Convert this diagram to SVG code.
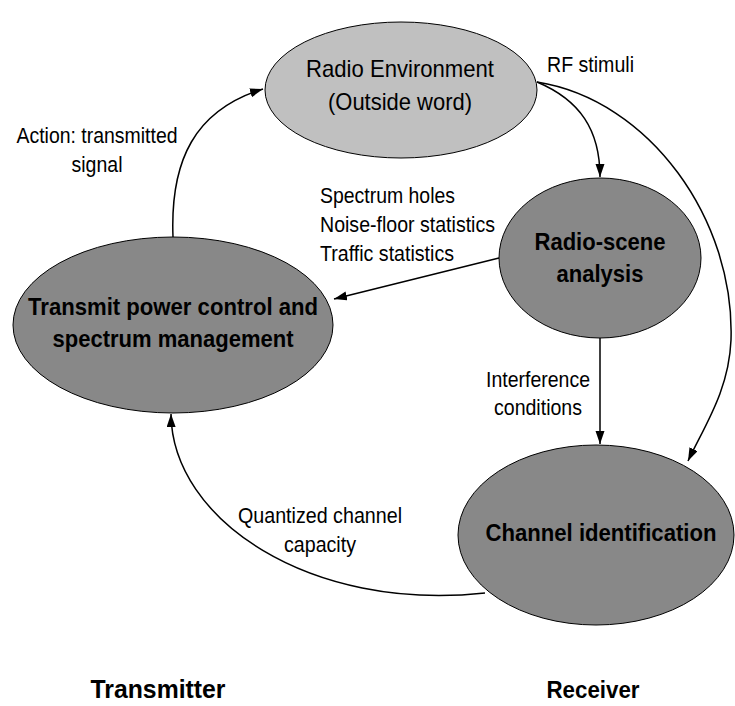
<svg xmlns="http://www.w3.org/2000/svg" width="735" height="706" viewBox="0 0 735 706">
<style>
.node{stroke:#000;stroke-width:1}
.env{fill:#c0c0c0}
.dark{fill:#888888}
.nt{font-family:"Liberation Sans",Arial,sans-serif;font-size:24px;fill:#000;text-anchor:middle}
.b{font-weight:bold}
.lbl{font-family:"Liberation Sans",Arial,sans-serif;font-size:21.5px;fill:#000}
.c{fill:none;stroke:#000;stroke-width:1.5}
</style>
<defs>
<marker id="ah" markerUnits="userSpaceOnUse" markerWidth="14" markerHeight="10" refX="13" refY="4.5" orient="auto">
<path d="M0,0 L13,4.5 L0,9 z" fill="#000"/>
</marker>
</defs>
<rect width="735" height="706" fill="#fff"/>
<g id="connectors">
<path class="c" d="M173,237 C170,160 195,110 263,89" marker-end="url(#ah)"/>
<path class="c" d="M537,82 C580,100 600,130 600,177" marker-end="url(#ah)"/>
<path class="c" d="M537,82 C650,100 735,220 731,340 C729,390 705,425 688,461" marker-end="url(#ah)"/>
<path class="c" d="M499,258 L334,299" marker-end="url(#ah)"/>
<path class="c" d="M600,337 L600,444" marker-end="url(#ah)"/>
<path class="c" d="M485,593 C310,612 172,520 171,414" marker-end="url(#ah)"/>
</g>
<g id="radio-environment">
<ellipse class="node env" cx="401" cy="90" rx="136" ry="68"/>
<text class="nt" x="400" y="77" textLength="188" lengthAdjust="spacingAndGlyphs">Radio Environment</text>
<text class="nt" x="400" y="110" textLength="144" lengthAdjust="spacingAndGlyphs">(Outside word)</text>
</g>
<g id="radio-scene-analysis">
<ellipse class="node dark" cx="600" cy="258" rx="101" ry="80"/>
<text class="nt b" x="600" y="250" textLength="131" lengthAdjust="spacingAndGlyphs">Radio-scene</text>
<text class="nt b" x="600" y="282" textLength="87" lengthAdjust="spacingAndGlyphs">analysis</text>
</g>
<g id="transmit-power-control">
<ellipse class="node dark" cx="173" cy="325" rx="160" ry="88"/>
<text class="nt b" x="173" y="315" textLength="290" lengthAdjust="spacingAndGlyphs">Transmit power control and</text>
<text class="nt b" x="173" y="347" textLength="241" lengthAdjust="spacingAndGlyphs">spectrum management</text>
</g>
<g id="channel-identification">
<ellipse class="node dark" cx="596" cy="535" rx="138" ry="90"/>
<text class="nt b" x="601" y="541" textLength="231" lengthAdjust="spacingAndGlyphs">Channel identification</text>
</g>
<g id="labels">
<text class="lbl" x="547" y="72" textLength="87" lengthAdjust="spacingAndGlyphs">RF stimuli</text>
<text class="lbl" x="97" y="143" text-anchor="middle" textLength="161" lengthAdjust="spacingAndGlyphs">Action: transmitted</text>
<text class="lbl" x="97" y="172" text-anchor="middle" textLength="51" lengthAdjust="spacingAndGlyphs">signal</text>
<text class="lbl" x="320" y="203" textLength="135" lengthAdjust="spacingAndGlyphs">Spectrum holes</text>
<text class="lbl" x="320" y="232" textLength="175" lengthAdjust="spacingAndGlyphs">Noise-floor statistics</text>
<text class="lbl" x="320" y="261" textLength="134" lengthAdjust="spacingAndGlyphs">Traffic statistics</text>
<text class="lbl" x="538" y="387" text-anchor="middle" textLength="104" lengthAdjust="spacingAndGlyphs">Interference</text>
<text class="lbl" x="538" y="415" text-anchor="middle" textLength="88" lengthAdjust="spacingAndGlyphs">conditions</text>
<text class="lbl" x="320" y="523" text-anchor="middle" textLength="164" lengthAdjust="spacingAndGlyphs">Quantized channel</text>
<text class="lbl" x="320" y="552" text-anchor="middle" textLength="72" lengthAdjust="spacingAndGlyphs">capacity</text>
<text class="nt b" x="158" y="698" style="font-size:26px" textLength="135" lengthAdjust="spacingAndGlyphs">Transmitter</text>
<text class="nt b" x="593" y="698" style="font-size:24px" textLength="93" lengthAdjust="spacingAndGlyphs">Receiver</text>
</g>
</svg>
